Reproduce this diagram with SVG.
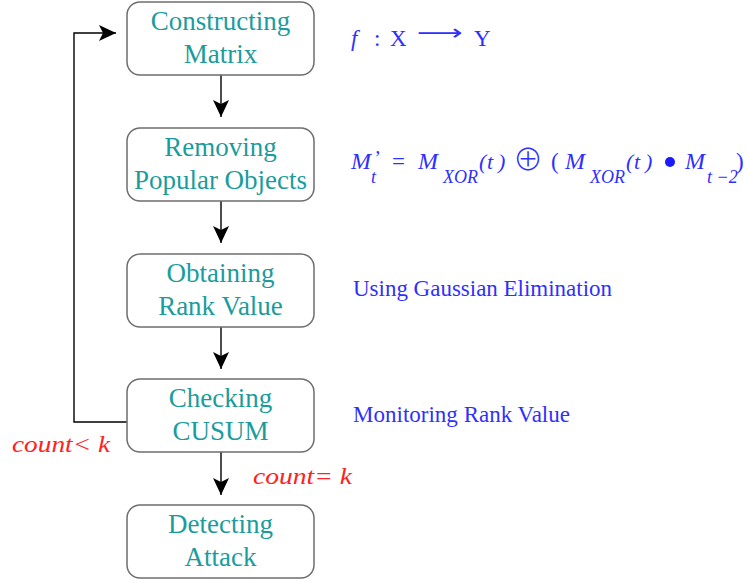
<svg xmlns="http://www.w3.org/2000/svg" width="747" height="583" viewBox="0 0 747 583">
<defs>
<marker id="ah" markerWidth="18" markerHeight="16" refX="17" refY="8" orient="auto" markerUnits="userSpaceOnUse">
<path d="M0,0 L17,8 L0,16 L4,8 z" fill="#000"/>
</marker>
</defs>
<style>
.box{fill:#fff;stroke:#6e6e6e;stroke-width:1.5}
.nt{font-family:"Liberation Serif",serif;font-size:27px;fill:#1b9c9c;text-anchor:middle}
.bl{font-family:"Liberation Serif",serif;font-size:23px;fill:#2f2fff}
.mi{font-family:"Liberation Serif",serif;font-style:italic;fill:#2f2fff}
.rd{font-family:"Liberation Serif",serif;font-style:italic;font-size:24px;fill:#ff2222}
.cn{fill:none;stroke:#000;stroke-width:1.4}
</style>
<rect width="747" height="583" fill="#fff"/>
<g id="connectors">
<line class="cn" x1="221" y1="75" x2="221" y2="117" marker-end="url(#ah)"/>
<line class="cn" x1="221" y1="201" x2="221" y2="243" marker-end="url(#ah)"/>
<line class="cn" x1="221" y1="327" x2="221" y2="369" marker-end="url(#ah)"/>
<line class="cn" x1="221" y1="452" x2="221" y2="495" marker-end="url(#ah)"/>
<polyline class="cn" points="127,422 74,422 74,33 116,33" marker-end="url(#ah)"/>
<text class="rd" x="12" y="452" textLength="98" lengthAdjust="spacingAndGlyphs">count&lt; k</text>
<text class="rd" x="253" y="484" textLength="99" lengthAdjust="spacingAndGlyphs">count= k</text>
</g>
<g id="n1">
<rect class="box" x="127" y="2" width="187" height="73" rx="13"/>
<text class="nt" x="220.5" y="30">Constructing</text>
<text class="nt" x="220.5" y="63">Matrix</text>
</g>
<g id="n2">
<rect class="box" x="127" y="128" width="187" height="73" rx="13"/>
<text class="nt" x="220.5" y="156">Removing</text>
<text class="nt" x="220.5" y="189">Popular Objects</text>
</g>
<g id="n3">
<rect class="box" x="127" y="254" width="187" height="73" rx="13"/>
<text class="nt" x="220.5" y="282">Obtaining</text>
<text class="nt" x="220.5" y="315">Rank Value</text>
</g>
<g id="n4">
<rect class="box" x="127" y="379" width="187" height="73" rx="13"/>
<text class="nt" x="220.5" y="407">Checking</text>
<text class="nt" x="220.5" y="440">CUSUM</text>
</g>
<g id="n5">
<rect class="box" x="127" y="505" width="187" height="73" rx="13"/>
<text class="nt" x="220.5" y="533">Detecting</text>
<text class="nt" x="220.5" y="566">Attack</text>
</g>
<g id="annotations">
<text class="bl" y="46"><tspan class="mi" x="351">f</tspan><tspan x="374">:</tspan><tspan x="390">X</tspan></text>
<text x="417" y="40" font-family="DejaVu Sans,sans-serif" font-size="22" fill="#2f2fff" textLength="46" lengthAdjust="spacingAndGlyphs">⟶</text>
<text class="bl" x="474" y="46">Y</text>
<text class="mi" font-size="24"><tspan x="351" y="169">M</tspan><tspan x="373" y="165" font-size="20">’</tspan><tspan x="371" y="183" font-size="18">t</tspan></text>
<text class="bl" x="392" y="169">=</text>
<text class="mi" font-size="24"><tspan x="418" y="169">M</tspan><tspan x="443" y="183" font-size="18">XOR</tspan><tspan x="479" y="169" font-size="22">(</tspan><tspan x="487" y="169" font-size="22">t</tspan><tspan x="498" y="169" font-size="22">)</tspan></text>
<text x="513" y="170" font-family="Noto Sans CJK SC,DejaVu Sans,sans-serif" font-weight="300" font-size="30" fill="#2f2fff">⊕</text>
<text class="bl" x="551" y="169">(</text>
<text class="mi" font-size="24"><tspan x="565" y="169">M</tspan><tspan x="590" y="183" font-size="18">XOR</tspan><tspan x="626" y="169" font-size="22">(</tspan><tspan x="634" y="169" font-size="22">t</tspan><tspan x="645" y="169" font-size="22">)</tspan></text>
<circle cx="670" cy="162" r="5" fill="#1a1aff"/>
<text class="mi" font-size="24"><tspan x="685" y="169">M</tspan><tspan x="707" y="183" font-size="18">t −2</tspan></text>
<text class="bl" x="736" y="169">)</text>
<text class="bl" x="353" y="296" textLength="259" lengthAdjust="spacingAndGlyphs">Using Gaussian Elimination</text>
<text class="bl" x="353" y="422" textLength="217" lengthAdjust="spacingAndGlyphs">Monitoring Rank Value</text>
</g>
</svg>
